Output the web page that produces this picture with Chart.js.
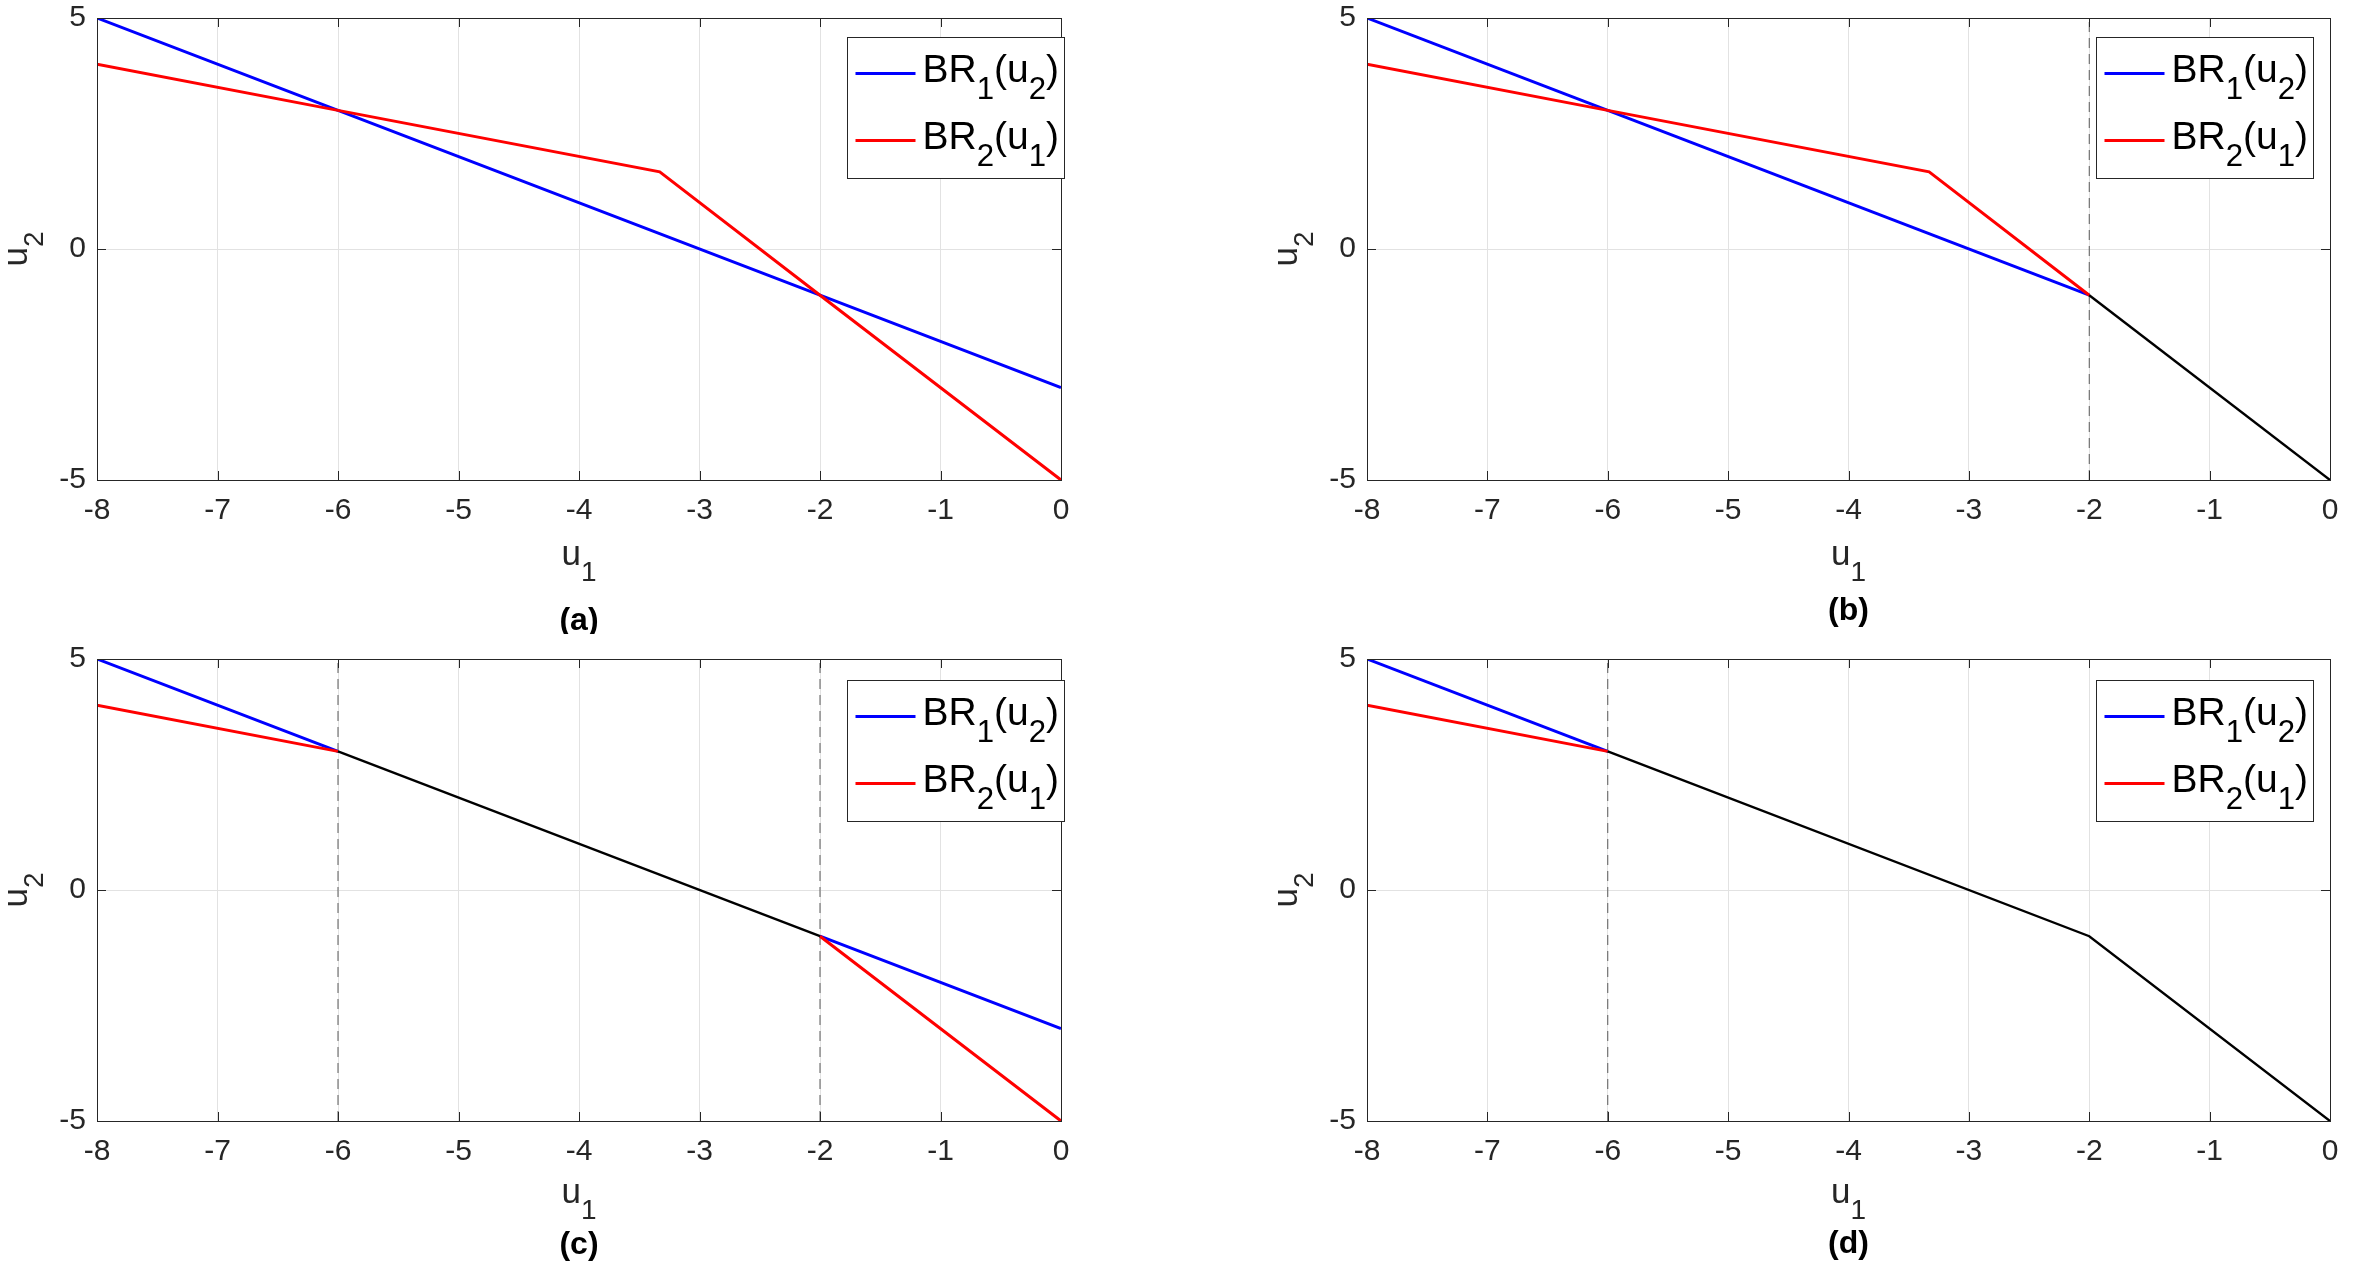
<!DOCTYPE html>
<html>
<head>
<meta charset="utf-8">
<script src="https://cdn.jsdelivr.net/npm/chart.js@4.4.1/dist/chart.umd.min.js"></script>
<style>
  html, body { margin: 0; padding: 0; background: #fff; }
  .panel { position: absolute; }
</style>
</head>
<body>
<div class="panel" id="pa" style="left:0;top:0;width:1176px;height:634px"><canvas id="ca"></canvas></div>
<div class="panel" id="pb" style="left:1176px;top:0;width:1177px;height:634px"><canvas id="cb"></canvas></div>
<div class="panel" id="pc" style="left:0;top:634px;width:1176px;height:635px"><canvas id="cc"></canvas></div>
<div class="panel" id="pd" style="left:1176px;top:634px;width:1177px;height:635px"><canvas id="cd"></canvas></div>
<script>
// axis ranges and ticks
const u1Range = [-8, 0];
const u2Range = [-5, 5];
const u1Step = 1;
const u2Step = 5;

// best response curves
const br1U1 = [-8, -6, -2, 0];
const br1U2 = [5, 3, -1, -3];
const br2U1 = [-8, -6, -3.33, -2, 0];
const br2U2 = [4, 3, 1.67, -1, -5];

// black (equilibrium) paths per panel
const eqBU1 = [-2, 0],        eqBU2 = [-1, -5];
const eqCU1 = [-6, -2],       eqCU2 = [3, -1];
const eqDU1 = [-6, -2, 0],    eqDU2 = [3, -1, -5];

// dashed vertical markers per panel
const dashB = [-2];
const dashC = [-6, -2];
const dashD = [-6];

// which u1 windows of the BR curves stay coloured
const keepA = [[-8, 0]];
const keepB = [[-8, -2]];
const keepC = [[-8, -6], [-2, 0]];
const keepD = [[-8, -6]];

const FONT = '"Liberation Sans", Arial, Helvetica, sans-serif';
const INK = '#262626';

function clip(xs, ys, windows) {
    const out = [];
    windows.forEach((w, k) => {
        if (k > 0) out.push({ x: w[0], y: null });
        xs.forEach((x, i) => { if (x >= w[0] && x <= w[1]) out.push({ x: x, y: ys[i] }); });
    });
    return out;
}
function pts(xs, ys) { return xs.map((x, i) => ({ x: x, y: ys[i] })); }

function drawTex(ctx, text, x, y, size, align) {
    const parts = [];
    for (let i = 0; i < text.length; i++) {
        if (text[i] === '_') { parts.push({ t: text[i + 1], sub: true }); i++; }
        else if (parts.length && !parts[parts.length - 1].sub) parts[parts.length - 1].t += text[i];
        else parts.push({ t: text[i], sub: false });
    }
    const subSize = size * 0.8, drop = size * 0.45;
    let w = 0;
    parts.forEach(p => {
        ctx.font = (p.sub ? subSize : size) + 'px ' + FONT;
        p.w = ctx.measureText(p.t).width;
        w += p.w;
    });
    let cx = align === 'center' ? x - w / 2 : x;
    ctx.textAlign = 'left';
    ctx.textBaseline = 'alphabetic';
    parts.forEach(p => {
        ctx.font = (p.sub ? subSize : size) + 'px ' + FONT;
        ctx.fillText(p.t, cx, y + (p.sub ? drop : 0));
        cx += p.w;
    });
}

// frame, inward ticks, labels, caption and legend
const decor = {
    id: 'decor',
    afterDatasetsDraw(chart) {
        const ctx = chart.ctx, a = chart.chartArea, o = chart.options.plugins.decor;
        const sx = chart.scales.x, sy = chart.scales.y;
        ctx.save();
        ctx.strokeStyle = INK;
        ctx.lineWidth = 1;
        ctx.beginPath();
        sx.ticks.forEach(t => {
            const px = Math.round(sx.getPixelForValue(t.value)) + 0.5;
            ctx.moveTo(px, a.bottom); ctx.lineTo(px, a.bottom - 9);
            ctx.moveTo(px, a.top); ctx.lineTo(px, a.top + 9);
        });
        sy.ticks.forEach(t => {
            const py = Math.round(sy.getPixelForValue(t.value)) + 0.5;
            ctx.moveTo(a.left, py); ctx.lineTo(a.left + 9, py);
            ctx.moveTo(a.right, py); ctx.lineTo(a.right - 9, py);
        });
        ctx.stroke();
        ctx.strokeRect(Math.round(a.left) + 0.5, Math.round(a.top) + 0.5, Math.round(a.right - a.left), Math.round(a.bottom - a.top));

        ctx.fillStyle = INK;
        const midX = (a.left + a.right) / 2, midY = (a.top + a.bottom) / 2;
        drawTex(ctx, 'u_1', midX, a.bottom + o.xLabelDy, 35, 'center');
        ctx.save();
        ctx.translate(a.left - 70, midY);
        ctx.rotate(-Math.PI / 2);
        drawTex(ctx, 'u_2', 0, 0, 35, 'center');
        ctx.restore();

        ctx.fillStyle = '#000';
        ctx.font = 'bold 32px ' + FONT;
        ctx.textAlign = 'center';
        ctx.textBaseline = 'alphabetic';
        ctx.fillText(o.caption, midX, a.bottom + o.captionDy);

        // legend
        const bw = 217, bh = 141;
        const bx = Math.round(a.right + o.legendDx - bw) + 0.5, by = Math.round(a.top + o.legendDy) + 0.5;
        ctx.fillStyle = '#fff';
        ctx.fillRect(bx, by, bw, bh);
        ctx.strokeStyle = INK;
        ctx.lineWidth = 1;
        ctx.strokeRect(bx, by, bw, bh);
        const items = chart.data.datasets.filter(d => d.label);
        items.forEach((d, i) => {
            const ly = by + 36 + i * 67;
            ctx.strokeStyle = d.borderColor;
            ctx.lineWidth = 2.8;
            ctx.beginPath();
            ctx.moveTo(bx + 8, ly); ctx.lineTo(bx + 68, ly);
            ctx.stroke();
            ctx.fillStyle = '#000';
            drawTex(ctx, d.label, bx + 75, ly + 8, 39, 'left');
        });
        ctx.restore();
    }
};

function makeChart(canvasId, keep, eqU1, eqU2, dashes, opts) {
    const datasets = [];
    dashes.forEach(d => datasets.push({
        data: [{ x: d, y: u2Range[0] }, { x: d, y: u2Range[1] }],
        borderColor: '#5a5a5a', borderWidth: 1, borderDash: [10, 6], order: 4
    }));
    datasets.push({ label: 'BR_1(u_2)', data: clip(br1U1, br1U2, keep), borderColor: '#0000ff', borderWidth: 3, order: 3 });
    datasets.push({ label: 'BR_2(u_1)', data: clip(br2U1, br2U2, keep), borderColor: '#ff0000', borderWidth: 3, order: 2 });
    if (eqU1.length) datasets.push({ data: pts(eqU1, eqU2), borderColor: '#000000', borderWidth: 2.4, order: 1 });
    datasets.forEach(d => { d.showLine = true; d.pointRadius = 0; d.spanGaps = false; d.tension = 0; d.borderCapStyle = 'butt'; });

    const tickFont = { family: FONT, size: 30 };
    new Chart(document.getElementById(canvasId), {
        type: 'scatter',
        data: { datasets: datasets },
        options: {
            responsive: true,
            maintainAspectRatio: false,
            animation: false,
            events: [],
            layout: { padding: { top: opts.padTop, right: opts.padRight, left: 0, bottom: 0 } },
            plugins: {
                legend: { display: false },
                tooltip: { enabled: false },
                decor: opts
            },
            scales: {
                x: {
                    type: 'linear', min: u1Range[0], max: u1Range[1],
                    ticks: { stepSize: u1Step, color: INK, font: tickFont, padding: 13, maxRotation: 0, autoSkip: false },
                    grid: { color: '#e2e2e2', lineWidth: 1, drawTicks: false },
                    border: { display: false },
                    afterFit: s => { s.height = opts.xAxisH; s.paddingLeft = 0; s.paddingRight = 0; }
                },
                y: {
                    type: 'linear', min: u2Range[0], max: u2Range[1],
                    ticks: { stepSize: u2Step, color: INK, font: tickFont, padding: 11 },
                    grid: { color: '#e2e2e2', lineWidth: 1, drawTicks: false },
                    border: { display: false },
                    afterFit: s => { s.width = opts.yAxisW; s.paddingTop = 0; s.paddingBottom = 0; }
                }
            }
        },
        plugins: [decor]
    });
}

makeChart('ca', keepA, [], [], [], { caption: '(a)', padTop: 18, padRight: 115, xAxisH: 154, yAxisW: 97, xLabelDy: 85, captionDy: 150, legendDx: 3, legendDy: 19 });
makeChart('cb', keepB, eqBU1, eqBU2, dashB, { caption: '(b)', padTop: 18, padRight: 23, xAxisH: 154, yAxisW: 191, xLabelDy: 85, captionDy: 140, legendDx: -17, legendDy: 19 });
makeChart('cc', keepC, eqCU1, eqCU2, dashC, { caption: '(c)', padTop: 25, padRight: 115, xAxisH: 148, yAxisW: 97, xLabelDy: 82, captionDy: 133, legendDx: 3, legendDy: 21 });
makeChart('cd', keepD, eqDU1, eqDU2, dashD, { caption: '(d)', padTop: 25, padRight: 23, xAxisH: 148, yAxisW: 191, xLabelDy: 82, captionDy: 132, legendDx: -17, legendDy: 21 });
</script>
</body>
</html>
